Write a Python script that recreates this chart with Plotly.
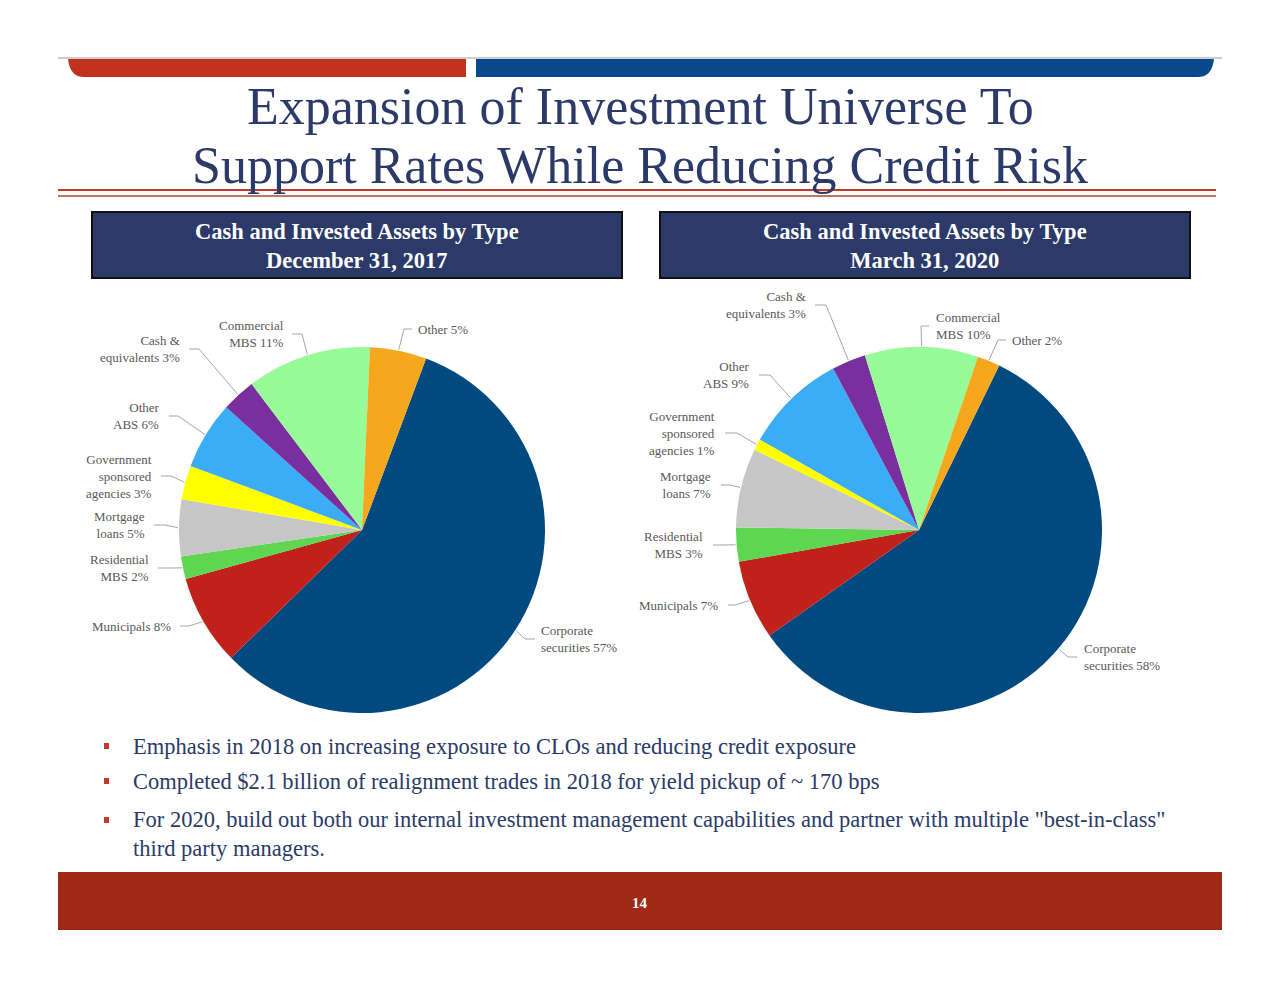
"""Slide: cash and invested assets by type, 2017 vs 2020 pies."""

import math

import plotly.graph_objects as go

W, H = 1280, 989
OFF = 8  # browser body margin; reference pixel coords are shifted by this

# Data
categories = [
    "Corporate securities",
    "Municipals",
    "Residential MBS",
    "Mortgage loans",
    "Government sponsored agencies",
    "Other ABS",
    "Cash & equivalents",
    "Commercial MBS",
    "Other",
]
values_2017 = [57, 8, 2, 5, 3, 6, 3, 11, 5]
values_2020 = [58, 7, 3, 7, 1, 9, 3, 10, 2]
label_lines = [
    "Corporate<br>securities",
    "Municipals",
    "Residential<br>MBS",
    "Mortgage<br>loans",
    "Government<br>sponsored<br>agencies",
    "Other<br>ABS",
    "Cash &<br>equivalents",
    "Commercial<br>MBS",
    "Other",
]
slice_colors = [
    "#004a80", "#c0211a", "#5ed64f", "#c6c6c6", "#ffff00",
    "#3badf7", "#7a2f9e", "#97fb98", "#f6a81c",
]
panel_titles = [
    "Cash and Invested Assets by Type<br>December 31, 2017",
    "Cash and Invested Assets by Type<br>March 31, 2020",
]
bullets = [
    "Emphasis in 2018 on increasing exposure to CLOs and reducing credit exposure",
    "Completed $2.1 billion of realignment trades in 2018 for yield pickup of ~ 170 bps",
    'For 2020, build out both our internal investment management capabilities and partner with multiple "best-in-class"<br>third party managers.',
]

NAVY = "#2b3a68"
RED = "#c0321f"
BLUE = "#0a4a8c"
SERIF = "Liberation Serif, Times New Roman, serif"

# pie geometry (pixels): centre x, centre y, radius, start rotation
pies = [
    {"cx": 362, "cy": 530, "r": 183, "rot": 20.5, "values": values_2017},
    {"cx": 919, "cy": 530, "r": 183, "rot": 26, "values": values_2020},
]
# label placement per slice: (text x, text y, anchor, leader start x, elbow x)
placements = [
    [
        (539, 639, "left", 535, 525),
        (173, 626, "right", 180, 189),
        (151, 568, "right", 158, 170),
        (147, 525, "right", 154, 165),
        (154, 476, "right", 161, 171),
        (162, 416, "right", 169, 178),
        (182, 349, "right", 189, 199),
        (286, 334, "right", 292, 302),
        (416, 329, "left", 412, 404),
    ],
    [
        (1082, 657, "left", 1077, 1068),
        (720, 605, "right", 728, 735),
        (705, 545, "right", 713, 724),
        (713, 485, "right", 721, 730),
        (717, 433, "right", 725, 737),
        (752, 375, "right", 759, 770),
        (808, 305, "right", 815, 826),
        (934, 326, "left", 929, 921),
        (1010, 340, "left", 1006, 998),
    ],
]

fig = go.Figure()

shapes = []
annotations = []

for pie, place in zip(pies, placements):
    cx, cy, r = pie["cx"], pie["cy"], pie["r"]
    fig.add_trace(
        go.Pie(
            labels=categories,
            values=pie["values"],
            sort=False,
            direction="clockwise",
            rotation=pie["rot"],
            marker={"colors": slice_colors, "line": {"width": 0}},
            textinfo="none",
            hoverinfo="label+percent",
            showlegend=False,
            domain={
                "x": [(cx - OFF - r) / W, (cx - OFF + r) / W],
                "y": [1 - (cy - OFF + r) / H, 1 - (cy - OFF - r) / H],
            },
        )
    )
    total = sum(pie["values"])
    angle = pie["rot"]
    for v, lines, (tx, ty, anchor, lx, ex) in zip(pie["values"], label_lines, place):
        mid = math.radians(angle + 360 * v / total / 2)
        angle += 360 * v / total
        px = cx + (r + 1) * math.sin(mid)
        py = cy - (r + 1) * math.cos(mid)
        shapes.append({
            "type": "path", "xref": "x", "yref": "y",
            "path": f"M {lx} {ty} L {ex} {ty} L {px:.1f} {py:.1f}",
            "line": {"color": "#a6a6a6", "width": 1},
        })
        annotations.append({
            "x": tx, "y": ty, "xref": "x", "yref": "y",
            "text": f"{lines} {v}%", "showarrow": False,
            "xanchor": anchor, "yanchor": "middle", "align": anchor,
            "font": {"family": SERIF, "size": 13, "color": "#595959"},
        })

# top banner
shapes += [
    {"type": "line", "xref": "x", "yref": "y", "x0": 58, "x1": 1222, "y0": 58, "y1": 58,
     "line": {"color": "#9a9a9a", "width": 1}},
    {"type": "path", "xref": "x", "yref": "y",
     "path": "M 68 59 L 466 59 L 466 77 L 84 77 Q 70 77 68 59 Z",
     "fillcolor": RED, "line": {"width": 0}},
    {"type": "path", "xref": "x", "yref": "y",
     "path": "M 476 59 L 1214 59 Q 1212 77 1198 77 L 476 77 Z",
     "fillcolor": BLUE, "line": {"width": 0}},
    {"type": "line", "xref": "x", "yref": "y", "x0": 58, "x1": 1216, "y0": 190, "y1": 190,
     "line": {"color": "#c0392b", "width": 2}},
    {"type": "line", "xref": "x", "yref": "y", "x0": 58, "x1": 1216, "y0": 196, "y1": 196,
     "line": {"color": "#a8472f", "width": 1.5}},
]

annotations += [
    {"x": 640, "y": 106, "xref": "x", "yref": "y", "showarrow": False,
     "text": "Expansion of Investment Universe To",
     "font": {"family": SERIF, "size": 52, "color": NAVY}},
    {"x": 640, "y": 165, "xref": "x", "yref": "y", "showarrow": False,
     "text": "Support Rates While Reducing Credit Risk",
     "font": {"family": SERIF, "size": 52, "color": NAVY}},
]

# panel header boxes
for (x0, x1), title in zip([(92, 622), (660, 1190)], panel_titles):
    shapes.append({
        "type": "rect", "xref": "x", "yref": "y", "x0": x0, "x1": x1, "y0": 212, "y1": 278,
        "fillcolor": NAVY, "line": {"color": "#111111", "width": 2},
    })
    annotations.append({
        "x": (x0 + x1) / 2, "y": 246, "xref": "x", "yref": "y", "showarrow": False,
        "text": f"<b>{title}</b>",
        "font": {"family": SERIF, "size": 22.5, "color": "white"},
    })

# bullets: marker y and text-block centre y
bullet_marks = [746, 781, 820]
bullet_text_y = [746, 781, 834]
for text, my, ty in zip(bullets, bullet_marks, bullet_text_y):
    shapes.append({
        "type": "rect", "xref": "x", "yref": "y",
        "x0": 104, "x1": 109, "y0": my - 3, "y1": my + 3,
        "fillcolor": "#c0392b", "line": {"width": 0},
    })
    annotations.append({
        "x": 131, "y": ty, "xref": "x", "yref": "y", "showarrow": False,
        "xanchor": "left", "yanchor": "middle", "align": "left",
        "text": text, "font": {"family": SERIF, "size": 22.5, "color": NAVY},
    })

# footer
shapes.append({
    "type": "rect", "xref": "x", "yref": "y", "x0": 58, "x1": 1222, "y0": 872, "y1": 930,
    "fillcolor": "#a12a17", "line": {"width": 0},
})
annotations.append({
    "x": 640, "y": 903, "xref": "x", "yref": "y", "showarrow": False,
    "text": "<b>14</b>", "font": {"family": SERIF, "size": 15, "color": "white"},
})

fig.update_layout(
    width=W,
    height=H,
    margin={"l": 0, "r": 0, "t": 0, "b": 0},
    paper_bgcolor="white",
    plot_bgcolor="rgba(0,0,0,0)",
    xaxis={"range": [OFF, W + OFF], "visible": False, "fixedrange": True},
    yaxis={"range": [H + OFF, OFF], "visible": False, "fixedrange": True},
    shapes=shapes,
    annotations=annotations,
)

fig.write_html("out.html")
